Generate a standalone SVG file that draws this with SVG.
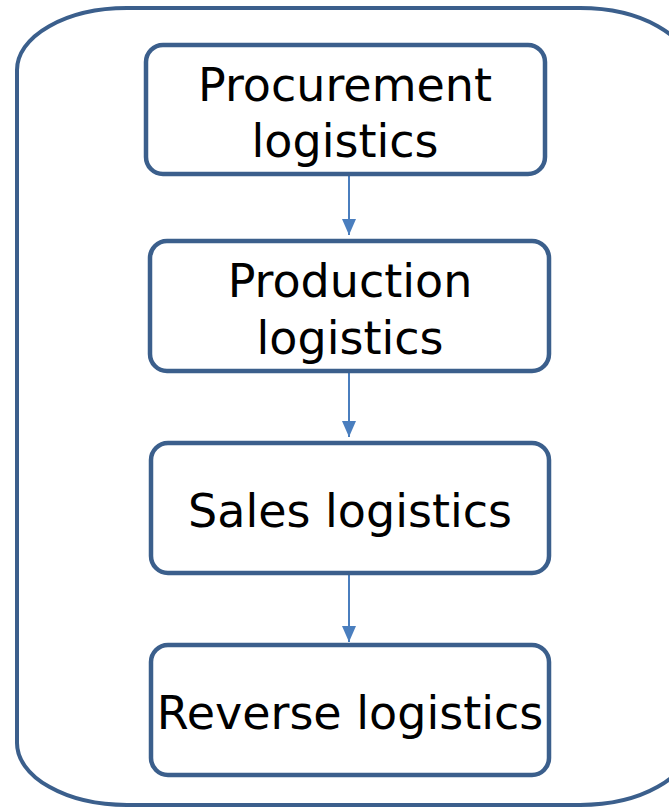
<svg xmlns="http://www.w3.org/2000/svg" width="669" height="807" viewBox="0 0 669 807">
  <defs>
    <style>
      .frame { fill: #ffffff; stroke: #3B5F8C; stroke-width: 4; }
      .box { fill: #ffffff; stroke: #3B5F8C; stroke-width: 4.5; }
      .label { font-family: "DejaVu Sans", Verdana, sans-serif; font-size: 46px; fill: #000000; text-anchor: middle; }
      .link { stroke: #4A7EBE; stroke-width: 2; fill: none; marker-end: url(#head); }
    </style>
    <marker id="head" viewBox="0 0 16 14" refX="16" refY="7" markerWidth="16" markerHeight="14" markerUnits="userSpaceOnUse" orient="auto">
      <path d="M0,0 L16,7 L0,14 Z" fill="#4A7EBE"/>
    </marker>
  </defs>

  <!-- outer container -->
  <rect class="frame" x="17" y="8" width="673" height="797" rx="110" ry="62"/>

  <!-- connectors -->
  <g id="connectors">
    <line class="link" x1="349" y1="176" x2="349" y2="235"/>
    <line class="link" x1="349" y1="373" x2="349" y2="437"/>
    <line class="link" x1="349" y1="575" x2="349" y2="642"/>
  </g>

  <g id="procurement">
    <rect class="box" x="146" y="45" width="399" height="129" rx="17"/>
    <text class="label" x="345" y="101">Procurement</text>
    <text class="label" x="345" y="157">logistics</text>
  </g>

  <g id="production">
    <rect class="box" x="150" y="241" width="399" height="130" rx="17"/>
    <text class="label" x="350" y="297">Production</text>
    <text class="label" x="350" y="354">logistics</text>
  </g>

  <g id="sales">
    <rect class="box" x="151" y="443" width="398" height="130" rx="17"/>
    <text class="label" x="350" y="527">Sales logistics</text>
  </g>

  <g id="reverse">
    <rect class="box" x="151" y="645" width="398" height="130" rx="17"/>
    <text class="label" x="350" y="729">Reverse logistics</text>
  </g>
</svg>
